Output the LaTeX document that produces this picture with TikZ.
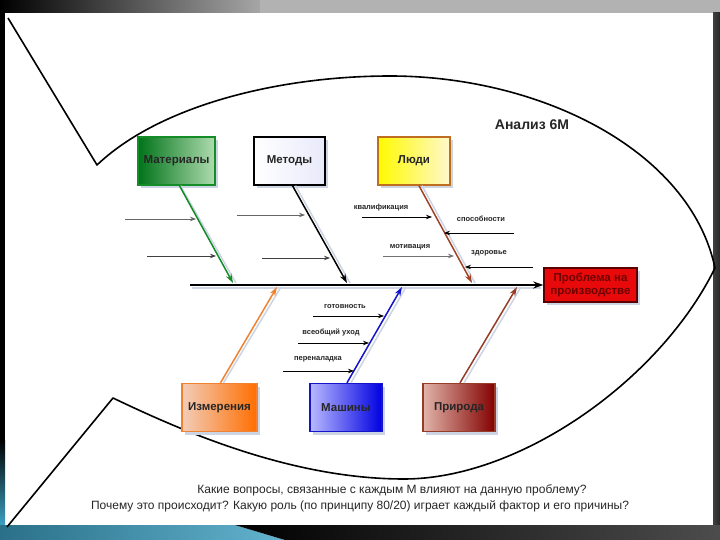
\documentclass[tikz,border=0pt]{standalone}
\usepackage{fontspec}
\setmainfont{Liberation Sans}
\usetikzlibrary{arrows.meta,shadows,calc}
\definecolor{bgteal}{RGB}{60,160,195}
\definecolor{shadowc}{RGB}{205,212,228}
\definecolor{greenb}{RGB}{20,140,40}
\definecolor{yellb}{RGB}{190,110,30}
\definecolor{orangeb}{RGB}{240,130,50}
\definecolor{blueb}{RGB}{20,20,200}
\definecolor{brownb}{RGB}{150,60,40}
\definecolor{probred}{RGB}{232,10,10}
\definecolor{probtext}{RGB}{110,0,0}
\tikzset{
  box/.style={draw, line width=1.4pt, minimum height=48pt, inner sep=0pt,
    font=\fontsize{11.5}{13}\selectfont\bfseries, text=black!85,
    drop shadow={shadow xshift=3pt, shadow yshift=-3pt, fill=shadowc, opacity=1}},
  fish/.style={line width=1.6pt, line join=round},
  bone/.style={line width=1.5pt, -{Stealth[length=9pt,width=6pt]}},
  boneshadow/.style={line width=1.5pt, draw=shadowc},
  sub/.style={line width=0.8pt, -{Stealth[length=6pt,width=4.5pt]}},
  lab/.style={font=\fontsize{7.5}{8}\selectfont\bfseries, inner sep=0pt, text=black!85},
  qtext/.style={font=\fontsize{12}{14}\selectfont, text=black!85, inner sep=0pt}
}
\begin{document}
\begin{tikzpicture}[x=1pt,y=-1pt]
\useasboundingbox (0,0) rectangle (720,540);
% slide background
\fill[white] (0,0) rectangle (720,540);
\shade[left color=black, right color=black!35] (0,0) rectangle (260,13);
\fill[black!30] (260,0) rectangle (720,13);
\fill[black] (0,13) rectangle (5,455);
\shade[top color=black, bottom color=bgteal] (0,440) rectangle (5,525);
\shade[left color=black!75, right color=black!85] (713,13) rectangle (720,525);
\shade[left color=bgteal!70!black, right color=bgteal!80!white] (0,525) -- (235,525) -- (285,540) -- (0,540) -- cycle;
\shade[left color=black, right color=black!70] (235,525) -- (720,525) -- (720,540) -- (285,540) -- cycle;

% fish outline
\coordinate (tl) at (8,18);
\coordinate (j1) at (97,165);
\coordinate (tr) at (715,268);
\coordinate (j2) at (113,398);
\coordinate (bl) at (7,527);
\draw[fish] (tl) -- (j1) .. controls (160,105) and (280,76) .. (390,76)
  .. controls (540,76) and (690,150) .. (tr)
  .. controls (660,380) and (520,479) .. (404,479)
  .. controls (290,479) and (180,430) .. (j2) -- (bl);

% title
\node[font=\fontsize{14}{16}\selectfont\bfseries, text=black!85] (title) at (532,125) {Анализ 6М};

% boxes
\node[box, minimum width=77pt, draw=greenb, left color={rgb,255:red,0;green,115;blue,25}, right color={rgb,255:red,175;green,220;blue,175}] (mat) at (176.5,161) {Материалы};
\node[box, minimum width=71pt, draw=black, left color=white, right color={rgb,255:red,232;green,234;blue,250}] (met) at (289.5,161) {Методы};
\node[box, minimum width=72pt, draw=yellb, left color={rgb,255:red,255;green,250;blue,0}, right color={rgb,255:red,255;green,248;blue,205}] (lyu) at (414,161) {Люди};
\node[box, minimum width=75pt, draw=orangeb, left color={rgb,255:red,242;green,205;blue,185}, right color={rgb,255:red,255;green,110;blue,0}] (izm) at (219.5,407.5) {Измерения};
\node[box, minimum width=72pt, draw=blueb, left color={rgb,255:red,185;green,185;blue,255}, right color={rgb,255:red,0;green,0;blue,225}] (mash) at (346,407.5) {Машины};
\node[box, minimum width=72pt, draw=brownb, left color={rgb,255:red,225;green,180;blue,170}, right color={rgb,255:red,130;green,0;blue,0}] (prir) at (459,407.5) {Природа};
\node[box, minimum width=93pt, minimum height=34pt, align=center, draw={rgb,255:red,90;green,0;blue,0}, fill=probred, text=probtext, font=\fontsize{11.5}{13.5}\selectfont\bfseries] (prob) at (590.5,285) {Проблема на\\производстве};

% axis
\coordinate (ax0) at (190,285);
\draw[boneshadow, line width=1.2pt] (192,288) -- (541,288);
\draw[line width=2.2pt, -{Stealth[length=10pt,width=7pt]}] (ax0) -- (prob.west);

% bone tips
\coordinate (tmat) at (233,283);
\coordinate (tmet) at (347,283);
\coordinate (tlyu) at (472,283);
\coordinate (tizm) at (277,287);
\coordinate (tmash) at (402,287);
\coordinate (tprir) at (517,287);

% bone shadows
\draw[boneshadow] ([xshift=4pt]mat.south) -- ([xshift=3pt]tmat);
\draw[boneshadow] ([xshift=6pt]met.south) -- ([xshift=3pt]tmet);
\draw[boneshadow] ([xshift=8pt]lyu.south) -- ([xshift=3pt]tlyu);
\draw[boneshadow] ([xshift=4pt]izm.north) -- ([xshift=4pt]tizm);
\draw[boneshadow] ([xshift=5pt]mash.north) -- ([xshift=4pt]tmash);
\draw[boneshadow] ([xshift=5pt]prir.north) -- ([xshift=4pt]tprir);

% bones
\draw[bone, draw=greenb, color=greenb] ([xshift=3pt]mat.south) -- (tmat);
\draw[bone, black] ([xshift=3pt]met.south) -- (tmet);
\draw[bone, draw=brownb!90!orange, color=brownb!90!orange] ([xshift=5pt]lyu.south) -- (tlyu);
\draw[bone, orangeb] ([xshift=1pt]izm.north) -- (tizm);
\draw[bone, blueb] ([xshift=1pt]mash.north) -- (tmash);
\draw[bone, brownb] ([xshift=1pt]prir.north) -- (tprir);

% materials sub-arrows
\coordinate (m1s) at (125,219); \coordinate (m1e) at (196,219);
\coordinate (m2s) at (147,256); \coordinate (m2e) at (216,256);
\draw[sub, black!60] (m1s) -- (m1e);
\draw[sub, black!75] (m2s) -- (m2e);
% methods sub-arrows
\coordinate (e1s) at (237,215); \coordinate (e1e) at (305,215);
\coordinate (e2s) at (262,258); \coordinate (e2e) at (330,258);
\draw[sub, black!60] (e1s) -- (e1e);
\draw[sub, black!75] (e2s) -- (e2e);
% people sub-arrows
\node[lab] (kv) at (381,208) {квалификация};
\node[lab] (sp) at (481,219) {способности};
\node[lab] (mo) at (410,247) {мотивация};
\node[lab] (zd) at (489,253) {здоровье};
\coordinate (p1s) at (362,217); \coordinate (p1e) at (432,217);
\coordinate (p2s) at (514,233); \coordinate (p2e) at (444,233);
\coordinate (p3s) at (383,256); \coordinate (p3e) at (454,256);
\coordinate (p4s) at (533,267); \coordinate (p4e) at (465,267);
\draw[sub] (p1s) -- (p1e);
\draw[sub] (p2s) -- (p2e);
\draw[sub, black!55] (p3s) -- (p3e);
\draw[sub] (p4s) -- (p4e);
% machines sub-arrows
\node[lab] (go) at (345,307) {готовность};
\node[lab] (vu) at (331,332) {всеобщий уход};
\node[lab] (pe) at (318,359) {переналадка};
\coordinate (q1s) at (313,316); \coordinate (q1e) at (384,316);
\coordinate (q2s) at (298,343); \coordinate (q2e) at (369,343);
\coordinate (q3s) at (283,371); \coordinate (q3e) at (354,371);
\draw[sub] (q1s) -- (q1e);
\draw[sub] (q2s) -- (q2e);
\draw[sub] (q3s) -- (q3e);

% bottom questions
\node[qtext] (qa) at (392,490) {Какие вопросы, связанные с каждым М влияют на данную проблему?};
\node[qtext] (qb) at (360,506) {Почему это происходит? Какую роль (по принципу 80/20) играет каждый фактор и его причины?};
\end{tikzpicture}
\end{document}
